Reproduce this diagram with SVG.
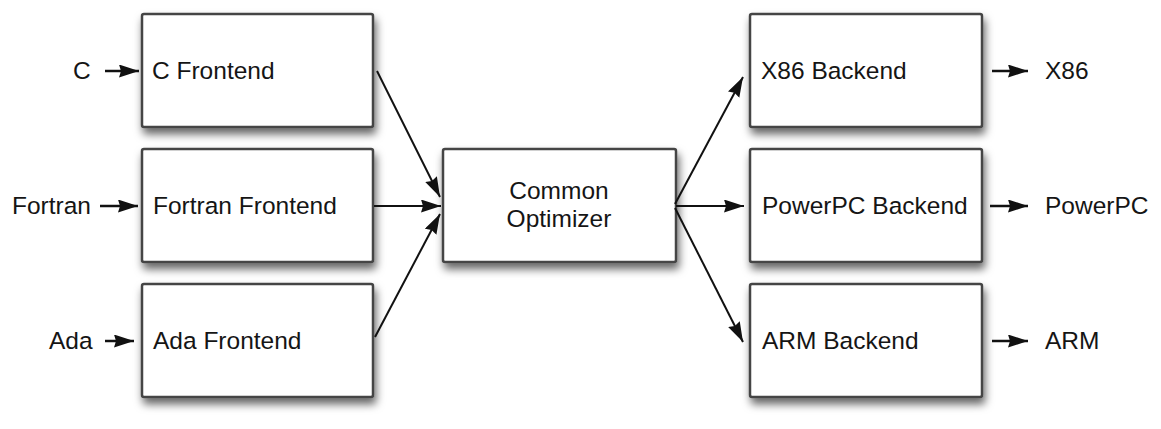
<svg xmlns="http://www.w3.org/2000/svg" width="1161" height="429" viewBox="0 0 1161 429">
  <defs>
    <filter id="shadow" x="-10%" y="-10%" width="130%" height="140%">
      <feDropShadow dx="2" dy="6" stdDeviation="4.5" flood-color="#000" flood-opacity="0.6"/>
    </filter>
    <marker id="arrow" markerUnits="userSpaceOnUse" markerWidth="22" markerHeight="14" refX="20" refY="6.5" orient="auto">
      <path d="M0,0 L20,6.5 L0,13 L2,6.5 z" fill="#111"/>
    </marker>
    <style>
      .box { fill: #fff; stroke: #444; stroke-width: 2.5; filter: url(#shadow); }
      .lbl { font-family: "Liberation Sans", Arial, Helvetica, sans-serif; font-size: 24.5px; fill: #151515; }
      .mid { text-anchor: middle; }
      .conn { stroke: #111; stroke-width: 2; fill: none; marker-end: url(#arrow); }
      .io { stroke: #111; stroke-width: 2.5; fill: none; marker-end: url(#arrow); }
    </style>
  </defs>
  <rect width="1161" height="429" fill="#fff"/>

  <g id="in-labels">
    <text class="lbl" x="73" y="79">C</text>
    <text class="lbl" x="12" y="214">Fortran</text>
    <text class="lbl" x="49" y="349">Ada</text>
  </g>
  <g id="out-labels">
    <text class="lbl" x="1045" y="79">X86</text>
    <text class="lbl" x="1045" y="214">PowerPC</text>
    <text class="lbl" x="1045" y="349">ARM</text>
  </g>

  <g id="c-frontend">
    <rect class="box" x="142" y="14" width="231" height="113" rx="2"/>
    <text class="lbl" x="152" y="79">C Frontend</text>
  </g>
  <g id="fortran-frontend">
    <rect class="box" x="142" y="149" width="231" height="113" rx="2"/>
    <text class="lbl" x="153" y="214">Fortran Frontend</text>
  </g>
  <g id="ada-frontend">
    <rect class="box" x="142" y="284" width="231" height="113" rx="2"/>
    <text class="lbl" x="153" y="349">Ada Frontend</text>
  </g>
  <g id="common-optimizer">
    <rect class="box" x="443" y="149" width="233" height="113" rx="2"/>
    <text class="lbl mid" x="559" y="199">Common</text>
    <text class="lbl mid" x="559" y="227">Optimizer</text>
  </g>
  <g id="x86-backend">
    <rect class="box" x="750" y="14" width="232" height="113" rx="2"/>
    <text class="lbl" x="761" y="79">X86 Backend</text>
  </g>
  <g id="powerpc-backend">
    <rect class="box" x="750" y="149" width="232" height="113" rx="2"/>
    <text class="lbl" x="762" y="214">PowerPC Backend</text>
  </g>
  <g id="arm-backend">
    <rect class="box" x="750" y="284" width="232" height="113" rx="2"/>
    <text class="lbl" x="762" y="349">ARM Backend</text>
  </g>

  <g id="connectors">
    <line class="io" x1="105" y1="71" x2="139" y2="71"/>
    <line class="io" x1="100" y1="206" x2="138" y2="206"/>
    <line class="io" x1="105" y1="341" x2="134" y2="341"/>
    <line class="conn" x1="377" y1="71" x2="440" y2="197"/>
    <line class="conn" x1="374" y1="206" x2="441" y2="206"/>
    <line class="conn" x1="375" y1="337" x2="440" y2="214"/>
    <line class="conn" x1="675" y1="204" x2="743" y2="77"/>
    <line class="conn" x1="676" y1="206" x2="744" y2="206"/>
    <line class="conn" x1="675" y1="208" x2="743" y2="342"/>
    <line class="io" x1="992" y1="71" x2="1028" y2="71"/>
    <line class="io" x1="990" y1="206" x2="1028" y2="206"/>
    <line class="io" x1="992" y1="341" x2="1028" y2="341"/>
  </g>
</svg>
